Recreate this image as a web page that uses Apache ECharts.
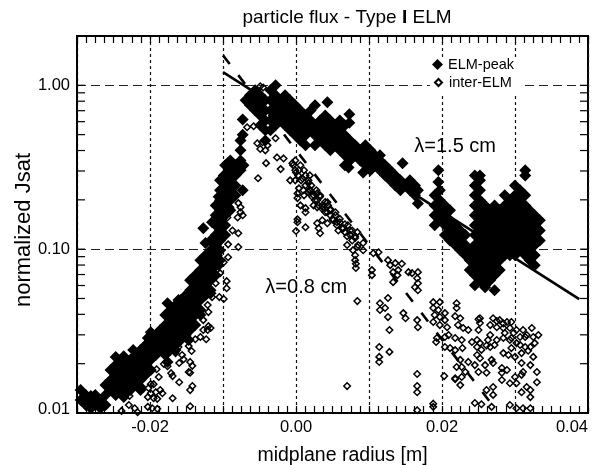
<!DOCTYPE html>
<html><head><meta charset="utf-8">
<script src="https://cdn.jsdelivr.net/npm/echarts@6/dist/echarts.min.js"></script>
<style>html,body{margin:0;padding:0;background:#fff}#c{width:600px;height:465px}</style>
</head><body><div id="c"></div>
<script>
const xTicks = ['-0.02', '0.00', '0.02', '0.04'];
const yTicks = {'1': '1.00', '0.1': '0.10', '0.01': '{low|0.01}'};
const yMinor = [.02,.03,.04,.05,.06,.07,.08,.09,.2,.3,.4,.5,.6,.7,.8,.9];

const peakLeft = [
[-.0295,[.0138,.0120]],[-.0288,[.0129,.0112]],[-.0281,[.0127,.0120,.0107]],[-.0275,[.0129,.0112]],
[-.0268,[.0120,.0107]],[-.0261,[.0148,.0129,.0112]],[-.0254,[.0183,.0159,.0138]],[-.0247,[.0196,.0171,.0148,.0129]],
[-.0240,[.0211,.0183,.0159,.0138]],[-.0233,[.0196,.0171,.0148,.0132]],[-.0227,[.0211,.0183,.0159,.0138]],
[-.0220,[.0226,.0196,.0171,.0148]],[-.0213,[.0242,.0211,.0183,.0159,.0144]],[-.0206,[.0260,.0226,.0196,.0171]],
[-.0199,[.0311,.0279,.0242,.0211,.0183]],[-.0192,[.0299,.0260,.0226]],[-.0186,[.0321,.0279,.0260]],
[-.0179,[.0396,.0344,.0299,.0260,.0226]],[-.0172,[.0425,.0369,.0321,.0279,.0242]],[-.0165,[.0456,.0396,.0344,.0299,.0260]],
[-.0158,[.0489,.0425,.0369,.0321,.0279]],[-.0151,[.0524,.0456,.0396,.0344,.0299]],
[-.0145,[.0647,.0562,.0489,.0425,.0369,.0321]],[-.0138,[.0694,.0603,.0524,.0456,.0396,.0344]],
[-.0131,[.0857,.0745,.0647,.0562,.0489,.0425]],[-.0124,[.0919,.0799,.0694,.0603,.0524]],
[-.0117,[.113,.0986,.0857,.0745,.0647,.0562]],[-.0110,[.185,.161,.140,.122,.106,.0919,.0799,.0694]],
[-.0104,[.263,.229,.199,.173,.150,.130,.113,.0986,.0857]],[-.0097,[.325,.282,.245,.213,.185,.161,.140,.122]],
[-.0090,[.348,.303,.263,.229,.199,.173]],[-.0083,[.325,.282,.245,.213]],[-.0076,[.461,.401,.348,.303]],
[-.0073,[.619,.500]]
];
const peakCore = [
[-.0069,[.81]],[-.0063,[.869,.755]],[-.0056,[.932,.81,.703]],[-.0049,[.869,.755,.655,.570]],
[-.0042,[.81,.703,.611,.531,.461]],[-.0035,[.932,.81,.703,.611,.531]],[-.0028,[1.0,.869,.755,.655,.570]],
[-.0021,[.81,.703,.611]],[-.0015,[.869,.755,.655,.570]],[-.0008,[.81,.703,.611,.531]],[-.0001,[.755,.655,.570,.495]],
[.0006,[.703,.611,.531,.461]],[.0013,[.655,.570,.495,.430]],[.0020,[.703,.611,.531]],[.0026,[.755,.570,.495,.430]],
[.0033,[.611,.531,.461]],[.0040,[.655,.570,.495,.430]],[.0043,[.787]],[.0047,[.611,.531,.461,.401]],
[.0054,[.570,.495,.430]],[.0060,[.611,.531,.461,.401]],[.0067,[.570,.495,.430,.374,.325]],[.0073,[.665,.590]],
[.0074,[.461,.401,.348]],[.0081,[.430,.374]],[.0088,[.401,.348]],[.0095,[.430,.374,.325]],[.0102,[.401,.348,.303]],
[.0108,[.374,.325]],[.0115,[.374,.348,.303]],[.0122,[.325,.282]],[.0129,[.303,.263]],[.0136,[.282,.245]],
[.0143,[.263,.229]],[.0146,[.335]],[.0150,[.245]],[.0156,[.263,.229]],[.0163,[.245,.213]],[.0167,[.229,.190]]
];
const peakRight = [
[.0190,[.213,.185,.161,.140]],[.0195,[.303,.257,.161]],[.0197,[.229,.199,.173,.150]],[.0204,[.185,.161,.140,.122]],
[.0211,[.173,.150,.130,.113]],[.0218,[.140,.122,.106]],[.0225,[.130,.113,.0986]],[.0232,[.122,.106,.0919]],
[.0238,[.0986,.0857,.0745]],[.0245,[.282,.245,.213,.185,.161,.140,.122,.106,.0919,.0799,.0694,.0603]],
[.0252,[.282,.263,.229,.199,.173,.150,.130,.113,.0986,.0857,.0745,.0647]],
[.0259,[.185,.161,.140,.122,.106,.0919,.0799,.0694,.0603,.0586]],[.0266,[.173,.150,.130,.113,.0986,.0857,.0745,.0647]],
[.0272,[.185,.161,.140,.122,.106,.0919,.0799,.0694,.0562]],[.0279,[.173,.150,.130,.113,.0986,.0857,.0745]],
[.0286,[.213,.185,.161,.140,.122,.106,.0919]],[.0293,[.199,.173,.150,.130,.113,.0986,.0919]],
[.0300,[.245,.213,.185,.161,.140,.122,.106,.0919]],[.0307,[.229,.199,.173,.150,.130,.113,.0986]],
[.0314,[.303,.282,.213,.185,.161,.140,.122,.106,.0919]],[.0320,[.173,.150,.130,.113,.0986,.0857]],
[.0327,[.161,.140,.122,.106,.0919,.0799]],[.0334,[.150,.130,.113]]
];
const peakEdge = [
[-.0247,.0220],[-.0236,.0222],[-.0223,.0242],[-.0203,.0287],[-.0176,.0468],[-.0161,.0489],[-.0124,.109],[-.0127,.134],
[-.0115,.146],[-.0106,.209],[-.0099,.282],[-.0093,.335],[-.0072,.325],[-.0073,.229],[-.0236,.0125],[-.0213,.0138],
[-.0203,.0178],[-.0186,.0246],[-.0176,.0205],[-.0165,.0242],[-.0147,.0279],[-.0131,.0396],[-.0117,.0539],[-.0106,.0799],
[.0072,.315],[.0092,.294]
];

const interLeft = [
[-.0239,.0103],[-.0228,.0127],[-.0229,.0112],[-.0221,.0107],[-.0217,.0101],[-.0203,.0125],[-.0203,.0109],[-.0202,.0142],
[-.0199,.0150],[-.0199,.0132],[-.0197,.0107],[-.0195,.0150],[-.0195,.0123],[-.0192,.0134],[-.0191,.0185],[-.0190,.0122],
[-.0190,.0106],[-.0188,.0166],[-.0186,.0138],[-.0183,.0132],[-.0181,.0199],[-.0176,.0193],[-.0171,.0175],[-.0169,.0168],
[-.0169,.0123],[-.0165,.0232],[-.0161,.0253],[-.0160,.0202],[-.0160,.0154],[-.0156,.0226],[-.0154,.0213],[-.0151,.0287],
[-.0147,.0256],[-.0147,.0178],[-.0145,.0205],[-.0145,.0176],[-.0145,.0138],[-.0145,.0110],[-.0143,.0239],[-.0142,.0194],
[-.0142,.0146],[-.0138,.0282],[-.0131,.0291],[-.0127,.0510],[-.0127,.0369],[-.0127,.0321],[-.0123,.0282],[-.0121,.0456],
[-.0121,.0321],[-.0120,.0562],[-.0120,.0413],[-.0120,.0339],[-.0117,.0330],[-.0115,.0510],[-.0110,.0620],[-.0106,.0919],
[-.0105,.0510],[-.0104,.0714],[-.0099,.0833],[-.0099,.0496],[-.0095,.0638],[-.0095,.0578],[-.0093,.107],[-.0093,.0893],
[-.0079,.103],[-.0090,.180],[-.0079,.191],[-.0076,.180],[-.0076,.168],[-.0080,.156],[-.0073,.161],[-.0087,.130],
[-.0094,.156],[-.0079,.125]
];
const interCore = [
[-.0049,.986],[-.0045,.969],[-.0067,.555],[-.0058,.563],[-.0053,.443],[-.0046,.449],[-.0039,.430],[-.0049,.409],
[-.0042,.401],[-.0028,.475],[-.0026,.363],[-.0017,.358],[-.0041,.335],[-.0021,.308],[-.0052,.271],[-.0008,.263],
[-.0005,.335],[.0002,.219],[.0013,.282],[.0019,.282],[.0017,.253],[.0029,.219],[.0002,.146],[.0002,.152],[.0000,.129],
[.0013,.178],[.0013,.168],[.0013,.136],[.0029,.144],[.0031,.134],[.0033,.125],[.0036,.150],[.0043,.144],[.0029,.180],
[.0037,.180],[.0043,.193],[.0047,.173],[-.0004,.325],[.0000,.294],[.0004,.303],[-.0001,.263],[.0007,.263],[.0004,.235],
[.0010,.229],[.0002,.205],[.0006,.185],[.0011,.213],[.0017,.223],[.0022,.209],[.0020,.229],[.0026,.199],[.0024,.185],
[.0031,.185],[.0033,.209],[.0036,.185],[.0040,.168],[.0044,.185],[.0047,.161],[.0054,.161],[.0051,.150],[.0056,.140],
[.0060,.146],[.0058,.130],[.0065,.134],[.0067,.127],[.0071,.140],[.0074,.122],[.0077,.130],[.0081,.117],[.0084,.127],
[.0085,.106]
];
const interDense = [
[-.0001,.348],[-.0001,.303],[.0003,.282],[.0006,.325],[.0009,.270],[.0011,.303],[.0013,.245],[.0017,.263],[.0018,.229],
[.0021,.245],[.0024,.213],[.0028,.229],[.0029,.199],[.0033,.213],[.0036,.176],[.0040,.194],[.0043,.168],[.0047,.176],
[.0050,.153],[.0054,.168],[.0056,.146],[.0060,.153],[.0063,.134],[.0067,.142],[.0070,.120],[.0074,.130],[.0077,.113],[.0081,.120]
];
const interMid = [
[.0070,.106],[.0078,.0986],[.0084,.103],[.0092,.0986],[.0092,.109],[.0081,.0919],[.0081,.0857],[.0082,.0815],[.0082,.0767],
[.0106,.0945],[.0113,.0958],[.0104,.0745],[.0104,.0694],[.0126,.0857],[.0129,.0799],[.0136,.0822],[.0145,.0815],[.0133,.0724],
[.0140,.0745],[.0139,.0694],[.0133,.0629],[.0154,.0724],[.0159,.0714],[.0167,.0724],[.0166,.0665],[.0167,.0620],[.0163,.0586],
[.0167,.0562],[.0084,.0482],[.0115,.0468],[.0115,.0425],[.0122,.0437],[.0126,.0503],[.0126,.0385],[.0128,.0321],[.0147,.0407],
[.0150,.0379],[.0166,.0369],[.0167,.0334],[.0114,.0253],[.0114,.0220],[.0114,.0205],[.0128,.0236],[.0070,.0146],[.0166,.0173],
[.0166,.0146],[.0166,.0134],[.0166,.0104],[.0188,.0114],[.0188,.0109],[.0203,.0168],[.0218,.0161],[.0227,.0166],[.0225,.0148]
];
const interRight = [
[.0188,.0475],[.0197,.0475],[.0188,.0437],[.0195,.0425],[.0204,.0407],[.0190,.0396],[.0197,.0385],[.0204,.0369],[.0188,.0359],
[.0197,.0344],[.0207,.0334],[.0220,.0468],[.0220,.0437],[.0218,.0390],[.0225,.0379],[.0222,.0344],[.0229,.0330],[.0236,.0321],
[.0193,.0287],[.0192,.0271],[.0204,.0291],[.0209,.0299],[.0204,.0253],[.0211,.0249],[.0218,.0242],[.0228,.0249],[.0218,.0287],
[.0227,.0279],[.0220,.0191],[.0225,.0211],[.0227,.0191],[.0236,.0205],[.0218,.0163],[.0252,.0379],[.0252,.0354],[.0270,.0379],
[.0279,.0369],[.0289,.0359],[.0295,.0359],[.0266,.0344],[.0275,.0334],[.0284,.0330],[.0293,.0330],[.0302,.0321],[.0311,.0321],
[.0323,.0330],[.0332,.0299],[.0327,.0267],[.0316,.0299],[.0307,.0291],[.0298,.0308],[.0266,.0299],[.0275,.0279],[.0284,.0287],
[.0293,.0279],[.0302,.0267],[.0314,.0253],[.0321,.0253],[.0250,.0321],[.0248,.0279],[.0241,.0271],[.0252,.0267],[.0263,.0279],
[.0266,.0253],[.0272,.0260],[.0284,.0232],[.0295,.0249],[.0300,.0220],[.0309,.0232],[.0248,.0226],[.0252,.0216],[.0259,.0196],
[.0245,.0196],[.0250,.0178],[.0261,.0176],[.0268,.0211],[.0270,.0202],[.0282,.0188],[.0289,.0183],[.0309,.0202],[.0325,.0220],
[.0321,.0196],[.0330,.0178],[.0311,.0178],[.0282,.0176],[.0282,.0159],[.0300,.0166],[.0309,.0171],[.0293,.0152],[.0302,.0152],
[.0316,.0144],[.0321,.0138],[.0309,.0134],[.0330,.0154],[.0321,.0125],[.0245,.0115],[.0254,.0113],[.0270,.0144],[.0261,.0138],
[.0270,.0129],[.0293,.0112],[.0302,.0107],[.0311,.0107],[.0321,.0107],[.0268,.0109],[.0232,.0178],[.0284,.0352],[.0275,.0364],
[.0286,.0308],[.0295,.0287],[.0314,.0291],[.0325,.0291],[.0307,.0260],[.0318,.0240],[.0291,.0226],[.0248,.0253],[.0254,.0243],
[.0261,.0258],[.0250,.0373]
];
const fit15 = [[-.01,1.205],[.0388,.0495]];
const fit08 = [[-.01,1.524],[.0276,.0102]];
const lambdaLabels = [[.0218,.425,'λ=1.5 cm'],[.0014,.0586,'λ=0.8 cm']];

const peak = [...peakLeft,...peakCore,...peakRight].flatMap(([x,ys])=>ys.map(y=>[x,y])).concat(peakEdge);
const inter = [...interLeft,...interCore,...interDense,...interMid,...interRight];
const FONT = '"Liberation Sans", Arial, sans-serif';
const XMIN=-.03, XMAX=.04;
const yTickData = yMinor.flatMap(v=>[[XMIN,v,1],[XMAX,v,-1]]).concat([[XMIN,1,1],[XMAX,1,-1],[XMIN,.1,1],[XMAX,.1,-1]]);

const chart = echarts.init(document.getElementById('c'),null,{renderer:'canvas'});
const xBase = {type:'value',min:XMIN,max:XMAX,interval:.01,
  axisLine:{show:true,onZero:false,lineStyle:{color:'#000',width:2}},
  axisTick:{show:true,inside:true,length:7,lineStyle:{color:'#000',width:1.2}},
  minorTick:{show:true,splitNumber:8,length:7,lineStyle:{color:'#000',width:1.2}},
  minorSplitLine:{show:false}};
chart.setOption({
  animation:false,
  backgroundColor:'#fff',
  title:{text:'particle flux - Type {b|I} ELM',left:342,top:3,textAlign:'center',
    textStyle:{fontFamily:FONT,fontSize:19,fontWeight:'normal',color:'#000',
      rich:{b:{fontFamily:FONT,fontSize:19,fontWeight:'bold',color:'#000'}}}},
  grid:{left:77,right:12,top:36,bottom:52,outerBoundsMode:'none',show:true,borderColor:'#000',borderWidth:2,backgroundColor:'#fff'},
  legend:[
    {data:['ELM-peak'],orient:'horizontal',left:430,top:57,padding:[0,8,0,2],itemGap:0,itemWidth:11,itemHeight:11,
     backgroundColor:'#fff',selectedMode:false,
     textStyle:{fontFamily:FONT,fontSize:14.5,color:'#000'}},
    {data:['inter-ELM'],orient:'horizontal',left:430,top:72,padding:[3,13,5,4],itemGap:0,itemWidth:7,itemHeight:7,
     backgroundColor:'#fff',selectedMode:false,
     textStyle:{fontFamily:FONT,fontSize:14.5,color:'#000',padding:[0,0,0,2]}}
  ],
  xAxis:[Object.assign({},xBase,{position:'bottom',
      name:'midplane radius [m]',nameLocation:'middle',nameGap:33,
      nameTextStyle:{fontFamily:FONT,fontSize:19.5,color:'#000',padding:[0,0,0,20]},
      axisLabel:{show:true,margin:6,fontFamily:FONT,fontSize:16.5,color:'#000',alignMaxLabel:'right',
        formatter:v=>{const s=(Math.abs(v)<1e-9?0:v).toFixed(2);return xTicks.includes(s)?s:'';}},
      splitLine:{show:true,lineStyle:{color:'#111',type:[3,3],width:1.2}}}),
    Object.assign({},xBase,{position:'top',axisLabel:{show:false},splitLine:{show:false}})],
  yAxis:{type:'log',logBase:10,min:.01,max:2,
    name:'normalized Jsat',nameLocation:'middle',nameGap:42,nameMoveOverlap:false,
    nameTextStyle:{fontFamily:FONT,fontSize:22,color:'#000',padding:[0,11,0,0]},
    axisLine:{show:true,onZero:false,lineStyle:{color:'#000',width:2}},
    axisTick:{show:false},minorTick:{show:false},
    axisLabel:{margin:7,fontFamily:FONT,fontSize:16.5,color:'#000',
      rich:{low:{fontFamily:FONT,fontSize:16.5,color:'#000',padding:[0,0,8,0]}},
      formatter:v=>yTicks[String(+(+v).toPrecision(3))]||''},
    splitLine:{show:true,lineStyle:{color:'#222',type:[9,5],width:1.2}}},
  series:[
    {name:'yticks',type:'custom',silent:true,clip:false,z:5,data:yTickData,
     renderItem:(p,api)=>{const c=api.coord([api.value(0),api.value(1)]);const d=api.value(2);
       return {type:'line',shape:{x1:c[0],y1:c[1],x2:c[0]+8*d,y2:c[1]},style:{stroke:'#000',lineWidth:1.2}};},
     encode:{x:0,y:1}},
    {name:'ELM-peak',type:'scatter',symbol:'diamond',symbolSize:12,z:3,data:peak,
     itemStyle:{color:'#000',borderColor:'#000',borderWidth:0,opacity:1}},
    {name:'inter-ELM',type:'scatter',symbol:'diamond',symbolSize:6.5,z:4,data:inter,
     itemStyle:{color:'rgba(255,255,255,0)',borderColor:'#000',borderWidth:1.5,opacity:1}},
    {name:'fit15',type:'line',data:fit15,symbol:'none',z:6,lineStyle:{color:'#000',width:2.6}},
    {name:'fit08',type:'line',data:fit08,symbol:'none',z:6,lineStyle:{color:'#000',width:2.6,type:[11,14]}},
    {name:'lambda',type:'scatter',symbolSize:0,z:7,silent:true,data:lambdaLabels,itemStyle:{opacity:1},
     label:{show:true,position:'inside',formatter:p=>p.value[2],fontFamily:FONT,fontSize:20,color:'#000'}}
  ]
});
</script></body></html>
